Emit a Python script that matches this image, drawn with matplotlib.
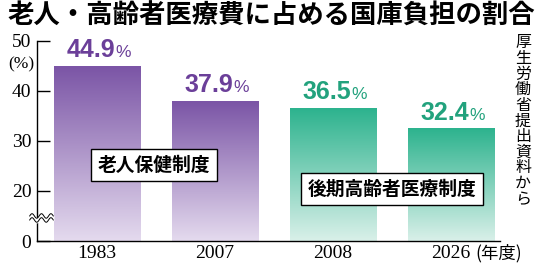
import numpy as np
import matplotlib
matplotlib.use('Agg')
import matplotlib.pyplot as plt
from matplotlib.colors import LinearSegmentedColormap

title = '老人・高齢者医療費に占める国庫負担の割合'
years = ['1983', '2007', '2008', '2026']
values = [44.9, 37.9, 36.5, 32.4]
groups = ['old', 'old', 'new', 'new']
group_labels = {'old': '老人保健制度', 'new': '後期高齢者医療制度'}
ytick_vals = [0, 20, 30, 40, 50]
source = '厚生労働省提出資料から'
unit_x = '(年度)'
unit_y = '(%)'

jp = ['Noto Sans CJK JP', 'DejaVu Sans']
serif = ['Liberation Serif', 'DejaVu Serif']
sans = ['Liberation Sans', 'DejaVu Sans']

colors = {'old': ('#7b55a6', '#e4daee', '#6b3f99'),
          'new': ('#2db38e', '#d9f0e9', '#22a27d')}

# broken axis: 0 sits one step below 20
def to_axis(v):
    return v - 10 if v >= 20 else 0

fig = plt.figure(figsize=(5.43, 2.68), dpi=100)
ax = fig.add_axes([37/543, 27/268, 463/543, 200.3/268])
xs = np.arange(len(values))
w = 0.73
for x, v, g in zip(xs, values, groups):
    top, bot, tc = colors[g]
    cmap = LinearSegmentedColormap.from_list(g, [bot, top])
    grad = np.linspace(0, 1, 200).reshape(-1, 1)
    ax.imshow(grad, cmap=cmap, origin='lower', aspect='auto',
              extent=[x - w/2, x + w/2, 0, to_axis(v)], zorder=1)
    t = ax.annotate('%.1f' % v, xy=(x, to_axis(v)), xytext=(-4.5, 3),
                    textcoords='offset points', ha='center', va='bottom',
                    fontsize=18, fontweight='bold', color=tc, family=sans)
    ax.annotate('%', xy=(1, 0), xycoords=t, xytext=(0, 1.2),
                textcoords='offset points', ha='left', va='bottom',
                fontsize=12.5, color=tc, family=sans)

ax.set_xlim(-0.508, 3.415)
ax.set_ylim(0, 40)
ax.set_yticks([to_axis(v) for v in ytick_vals])
ax.set_yticklabels([str(v) for v in ytick_vals], family=serif, fontsize=14)
ax.set_xticks(xs)
ax.set_xticklabels(years, family=serif, fontsize=14)
ax.tick_params(axis='y', direction='in', length=9.5, width=1, pad=4)
ax.tick_params(axis='x', length=0, pad=3)
for s in ['top', 'right']:
    ax.spines[s].set_visible(False)
ax.spines['left'].set_linewidth(1)
ax.spines['bottom'].set_linewidth(1)

# group labels
ax.text(0.483, 15.1, group_labels['old'], ha='center', va='center',
        fontsize=13.5, fontweight='bold', family=jp, zorder=5,
        bbox=dict(boxstyle='square,pad=0.35', fc='white', ec='black', lw=1))
ax.text(2.5, 10.3, group_labels['new'], ha='center', va='center',
        fontsize=13.5, fontweight='bold', family=jp, zorder=5,
        bbox=dict(boxstyle='square,pad=0.35', fc='white', ec='black', lw=1))

# wavy break mark
wx = np.linspace(-0.57, -0.37, 100)
wy = 4.6 + 0.45 * np.sin((wx - wx[0]) / (wx[-1] - wx[0]) * 5 * np.pi)
ax.fill_between(wx, wy - 0.4, wy + 0.4, color='white', zorder=6, clip_on=False)
ax.plot(wx, wy - 0.4, color='black', lw=0.7, zorder=7, clip_on=False)
ax.plot(wx, wy + 0.4, color='black', lw=0.7, zorder=7, clip_on=False)

fig.text(271/543, 1 - 16/268, title, ha='center', va='center', fontsize=19,
         fontweight='bold', family=jp)
fig.text(21/543, 1 - 64/268, unit_y, ha='center', va='center', fontsize=12.5,
         family=serif)
fig.text(499/543, 1 - 253/268, unit_x, ha='center', va='center', fontsize=12.5,
         family=jp)
for i, ch in enumerate(source):
    fig.text(523/543, 1 - (43 + i * 15.6)/268, ch, ha='center', va='center',
             fontsize=11.5, family=jp)

fig.savefig('out.png', dpi=100)
